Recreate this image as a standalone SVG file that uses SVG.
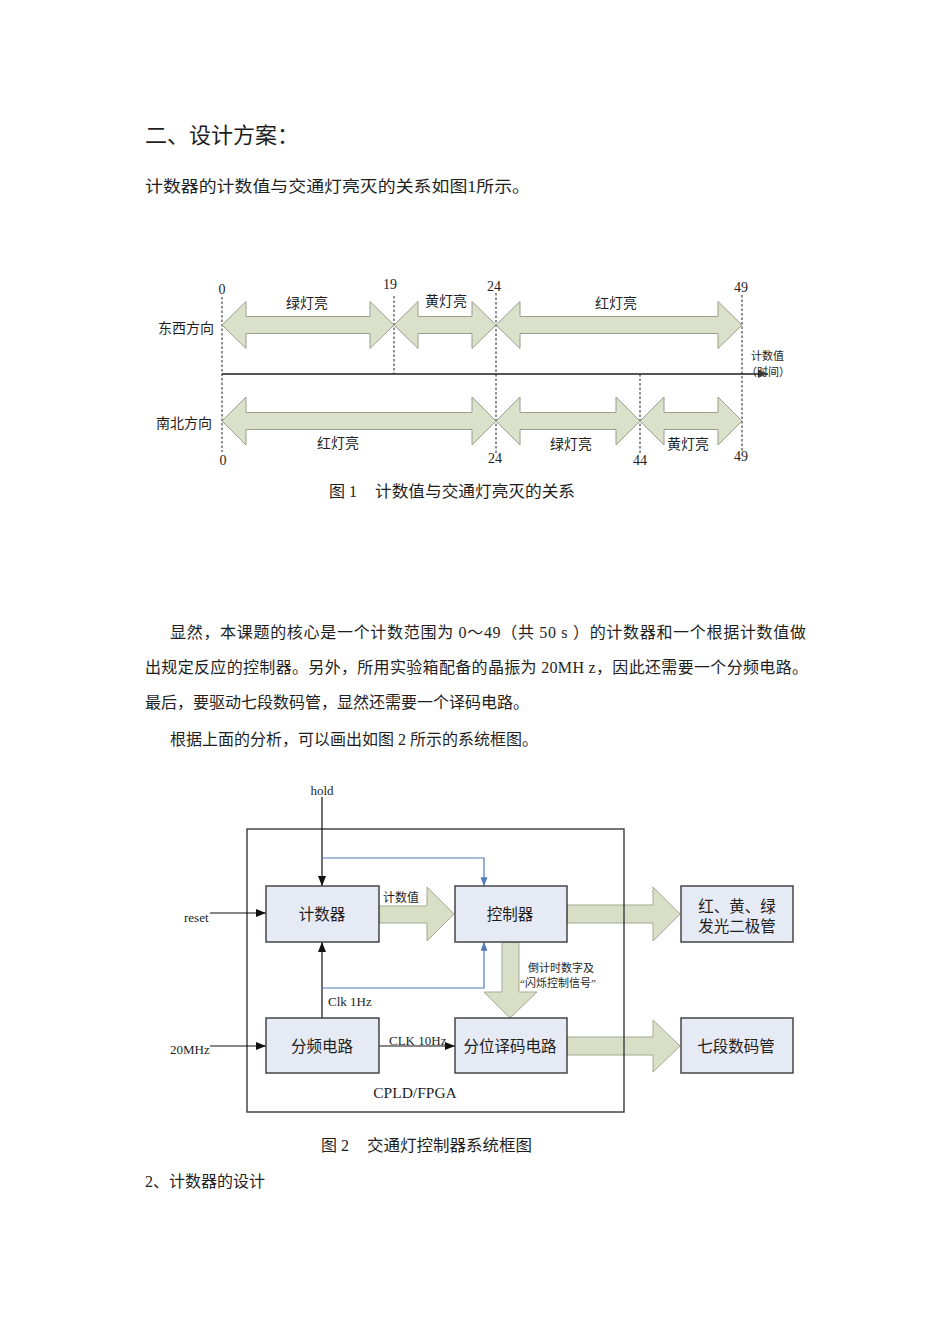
<svg xmlns="http://www.w3.org/2000/svg" width="950" height="1344" viewBox="0 0 950 1344">
  <style>
    text { font-family: "Liberation Serif", "Noto Sans CJK SC", serif; fill: #1e1e1e; }
    .h1 { font-size: 22px; }
    .body { font-size: 16px; }
    .lbl { font-size: 14px; }
    .num { font-size: 14px; }
    .sm { font-size: 11px; }
    .s12 { font-size: 12px; }
    .s13 { font-size: 13px; }
    .box-t { font-size: 15.5px; text-anchor: middle; }
    .mid { text-anchor: middle; }
    .dash { stroke: #1e1e1e; stroke-width: 1; stroke-dasharray: 2.5 2; fill: none; }
    .dbl { fill: #dbe0cb; stroke: #9a9e8c; stroke-width: 1; }
    .fat { fill: #d9dec7; stroke: #a4a993; stroke-width: 1; }
    .box { fill: #e6eaf5; stroke: #3a3a3a; stroke-width: 1.4; }
    .wire { stroke: #111; stroke-width: 1.2; fill: none; }
    .blue { stroke: #4f7ab5; stroke-width: 1.2; fill: none; }
  </style>
  <defs>
    <marker id="ah" viewBox="0 0 10 8" refX="10" refY="4" markerWidth="10" markerHeight="8" markerUnits="userSpaceOnUse" orient="auto">
      <path d="M0,0 L10,4 L0,8 Z" fill="#111"/>
    </marker>
    <marker id="ahb" viewBox="0 0 10 8" refX="10" refY="4" markerWidth="9" markerHeight="7" markerUnits="userSpaceOnUse" orient="auto">
      <path d="M0,0 L10,4 L0,8 Z" fill="#4f7ab5"/>
    </marker>
    <marker id="ahg" viewBox="0 0 10 8" refX="10" refY="4" markerWidth="11" markerHeight="8" markerUnits="userSpaceOnUse" orient="auto">
      <path d="M0,0 L10,4 L0,8 Z" fill="#444"/>
    </marker>
  </defs>

  <rect width="950" height="1344" fill="#ffffff"/>

  <!-- heading and intro -->
  <text class="h1" x="145" y="143">二、设计方案：</text>
  <text class="body" x="145" y="192" textLength="385" lengthAdjust="spacingAndGlyphs">计数器的计数值与交通灯亮灭的关系如图1所示。</text>

  <!-- ===== timing chart ===== -->
  <g id="timeline">
    <!-- time axis -->
    <line x1="222" y1="374" x2="768" y2="374" stroke="#555" stroke-width="2" marker-end="url(#ahg)"/>
    <text class="sm" x="751" y="360">计数值</text>
    <text class="sm" x="746" y="376">（时间）</text>
  </g>

  <g id="ticks">
    <line class="dash" x1="222" y1="297" x2="222" y2="452"/>
    <line class="dash" x1="394" y1="296" x2="394" y2="374"/>
    <line class="dash" x1="496" y1="293" x2="496" y2="453"/>
    <line class="dash" x1="640" y1="374" x2="640" y2="455"/>
    <line class="dash" x1="742" y1="295" x2="742" y2="451"/>
    <text class="num mid" x="222" y="294">0</text>
    <text class="num mid" x="390" y="289">19</text>
    <text class="num mid" x="494" y="291">24</text>
    <text class="num mid" x="741" y="292">49</text>
    <text class="num mid" x="223" y="465">0</text>
    <text class="num mid" x="495" y="463">24</text>
    <text class="num mid" x="640" y="465">44</text>
    <text class="num mid" x="741" y="461">49</text>
  </g>

  <g id="east-west">
    <text class="lbl" x="158" y="333">东西方向</text>
    <path class="dbl" d="M222,325 L246,301.5 L246,316.5 L370,316.5 L370,301.5 L394,325 L370,348.5 L370,333.5 L246,333.5 L246,348.5 Z"/>
    <path class="dbl" d="M394,325 L418,301.5 L418,316.5 L472,316.5 L472,301.5 L496,325 L472,348.5 L472,333.5 L418,333.5 L418,348.5 Z"/>
    <path class="dbl" d="M496,325 L520,301.5 L520,316.5 L718,316.5 L718,301.5 L742,325 L718,348.5 L718,333.5 L520,333.5 L520,348.5 Z"/>
    <text class="lbl mid" x="307" y="308">绿灯亮</text>
    <text class="lbl mid" x="446" y="306">黄灯亮</text>
    <text class="lbl mid" x="616" y="308">红灯亮</text>
  </g>

  <g id="north-south">
    <text class="lbl" x="156" y="428">南北方向</text>
    <path class="dbl" d="M222,421 L246,397 L246,412.5 L472,412.5 L472,397 L496,421 L472,445 L472,429.5 L246,429.5 L246,445 Z"/>
    <path class="dbl" d="M496,421 L520,397 L520,412.5 L616,412.5 L616,397 L640,421 L616,445 L616,429.5 L520,429.5 L520,445 Z"/>
    <path class="dbl" d="M640,421 L664,397 L664,412.5 L718,412.5 L718,397 L742,421 L718,445 L718,429.5 L664,429.5 L664,445 Z"/>
    <text class="lbl mid" x="338" y="448">红灯亮</text>
    <text class="lbl mid" x="571" y="449">绿灯亮</text>
    <text class="lbl mid" x="688" y="449">黄灯亮</text>
  </g>

  <text class="body" x="329" y="497">图 1</text>
  <text class="body" x="375" y="497" textLength="200" lengthAdjust="spacingAndGlyphs">计数值与交通灯亮灭的关系</text>

  <!-- body paragraph -->
  <text class="body" x="170" y="638" textLength="636" lengthAdjust="spacing">显然，本课题的核心是一个计数范围为 0～49（共 50 s ）的计数器和一个根据计数值做</text>
  <text class="body" x="145" y="673" textLength="663" lengthAdjust="spacing">出规定反应的控制器。另外，所用实验箱配备的晶振为 20MH z，因此还需要一个分频电路。</text>
  <text class="body" x="145" y="708">最后，要驱动七段数码管，显然还需要一个译码电路。</text>
  <text class="body" x="170" y="745">根据上面的分析，可以画出如图 2 所示的系统框图。</text>

  <!-- ===== system block diagram ===== -->
  <g id="buses">
    <path class="fat" d="M379,906 L427,906 L427,887 L454,914 L427,941 L427,923 L379,923 Z"/>
    <path class="fat" d="M567,905 L653,905 L653,887 L680,914 L653,941 L653,923 L567,923 Z"/>
    <path class="fat" d="M502,942 L502,992 L484,992 L510,1018 L537,992 L519,992 L519,942 Z"/>
    <path class="fat" d="M567,1037 L653,1037 L653,1020 L680,1046 L653,1072 L653,1055 L567,1055 Z"/>
  </g>

  <g id="cpld">
    <rect x="247" y="829" width="377" height="283" fill="none" stroke="#3a3a3a" stroke-width="1.4"/>
    <text class="mid" x="415" y="1098" font-size="15.5">CPLD/FPGA</text>
  </g>

  <g id="connectors">
    <line class="wire" x1="322" y1="797" x2="322" y2="886" marker-end="url(#ah)"/>
    <line class="wire" x1="210" y1="913" x2="266" y2="913" marker-end="url(#ah)"/>
    <line class="wire" x1="210" y1="1046" x2="266" y2="1046" marker-end="url(#ah)"/>
    <line class="wire" x1="322" y1="1018" x2="322" y2="942" marker-end="url(#ah)"/>
    <line class="wire" x1="379" y1="1046" x2="455" y2="1046" marker-end="url(#ah)"/>
    <polyline class="blue" points="322,858 484,858 484,886" marker-end="url(#ahb)"/>
    <polyline class="blue" points="322,988 484,988 484,942" marker-end="url(#ahb)"/>
    <text class="s13 mid" x="322" y="795">hold</text>
    <text class="s13" x="184" y="922">reset</text>
    <text class="s13" x="170" y="1054">20MHz</text>
    <text class="s12" x="383" y="902">计数值</text>
    <text class="s13" x="328" y="1006">Clk 1Hz</text>
    <text class="s13" x="389" y="1045">CLK 10Hz</text>
    <text class="sm" x="528" y="972">倒计时数字及</text>
    <text class="sm" x="520" y="987">“闪烁控制信号”</text>
  </g>

  <g id="counter">
    <rect class="box" x="266" y="886" width="113" height="56"/>
    <text class="box-t" x="322" y="920">计数器</text>
  </g>
  <g id="controller">
    <rect class="box" x="455" y="886" width="112" height="56"/>
    <text class="box-t" x="510" y="920">控制器</text>
  </g>
  <g id="leds">
    <rect class="box" x="681" y="886" width="112" height="56"/>
    <text class="box-t" x="737" y="912">红、黄、绿</text>
    <text class="box-t" x="737" y="932">发光二极管</text>
  </g>
  <g id="divider">
    <rect class="box" x="266" y="1018" width="113" height="55"/>
    <text class="box-t" x="322" y="1052">分频电路</text>
  </g>
  <g id="decoder">
    <rect class="box" x="455" y="1018" width="112" height="55"/>
    <text class="box-t" x="510" y="1052">分位译码电路</text>
  </g>
  <g id="seven-seg">
    <rect class="box" x="681" y="1018" width="112" height="55"/>
    <text class="box-t" x="736" y="1052">七段数码管</text>
  </g>

  <text class="body" x="321" y="1151">图 2</text>
  <text class="body" x="367" y="1151" textLength="165" lengthAdjust="spacingAndGlyphs">交通灯控制器系统框图</text>

  <text class="body" x="145" y="1187">2、计数器的设计</text>
</svg>
